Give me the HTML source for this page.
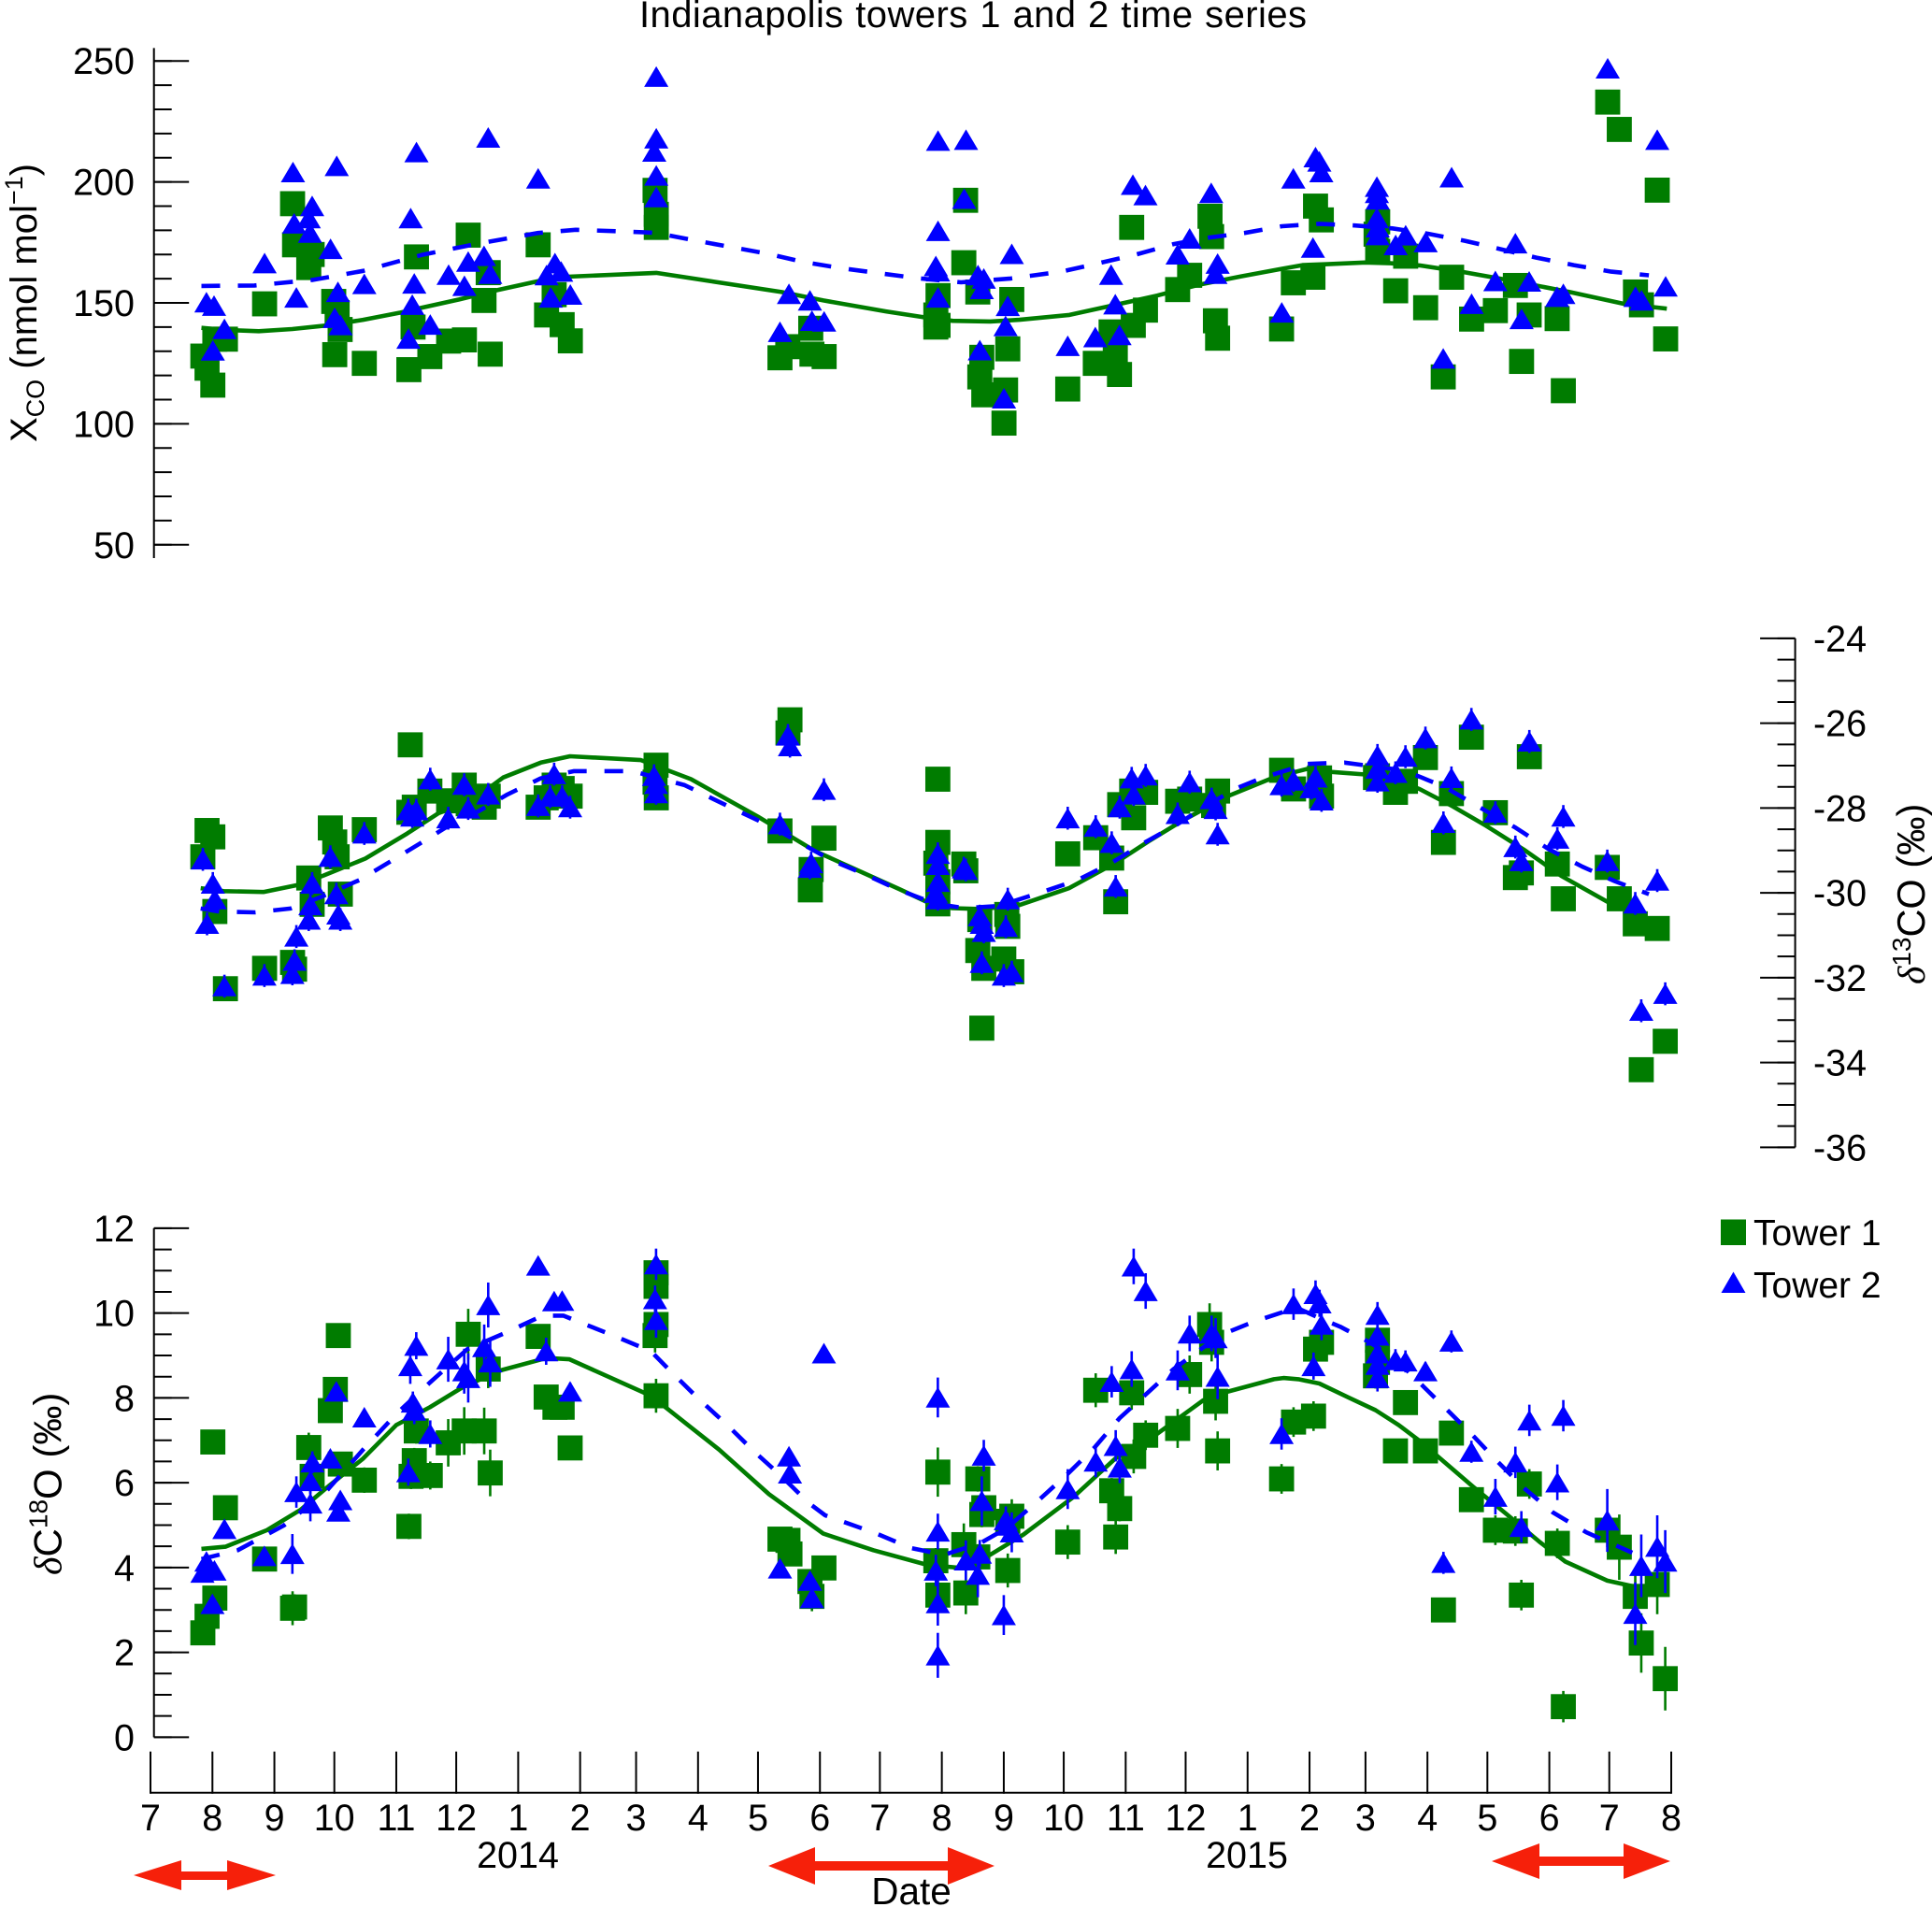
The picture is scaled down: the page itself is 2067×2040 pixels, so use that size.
<!DOCTYPE html>
<html>
<head>
<meta charset="utf-8">
<title>Indianapolis towers 1 and 2 time series</title>
<style>
html,body{margin:0;padding:0;background:#fff;}
svg{display:block;}
text{font-family:"Liberation Sans",sans-serif;fill:#000;}
.greek{font-family:"Liberation Serif",serif;font-style:italic;}
</style>
</head>
<body>
<svg id="chart" xmlns="http://www.w3.org/2000/svg" width="2067" height="2040" viewBox="0 0 2067 2040">
<rect x="0" y="0" width="2067" height="2040" fill="#ffffff"/>
<text x="684" y="29" font-size="40" word-spacing="1" textLength="714" lengthAdjust="spacing">Indianapolis towers 1 and 2 time series</text>

<text transform="translate(39,473) rotate(-90)" font-size="40">X<tspan font-size="27" dy="8">CO</tspan><tspan dy="-8"> (nmol mol</tspan><tspan font-size="27" dy="-15">−1</tspan><tspan dy="15">)</tspan></text>
<text transform="translate(2059,1053) rotate(-90)" font-size="41.5"><tspan class="greek">δ</tspan><tspan font-size="28" dy="-15">13</tspan><tspan dy="15">CO (‰)</tspan></text>
<text transform="translate(65.5,1685) rotate(-90)" font-size="42"><tspan class="greek">δ</tspan>C<tspan font-size="28" dy="-15">18</tspan><tspan dy="15">O (‰)</tspan></text>

<g id="xcoAxis"></g>
<g id="d13Axis"></g>
<g id="d18Axis"></g>
<g id="dateAxis"></g>
<g id="xcoMarks"></g>
<g id="d13Marks"></g>
<g id="d18Marks"></g>

<text x="554" y="1998" font-size="39.5" text-anchor="middle">2014</text>
<text x="1334" y="1998" font-size="39.5" text-anchor="middle">2015</text>
<text x="975" y="2037" font-size="40.5" text-anchor="middle">Date</text>

<polygon fill="#f6200a" points="143,2006 194,1990 194,2002 243,2002 243,1990 295,2006 243,2022 243,2011 194,2011 194,2022"/>
<polygon fill="#f6200a" points="822,1996 872,1976 872,1991 1014,1991 1014,1976 1064,1996 1014,2016 1014,2001 872,2001 872,2016"/>
<polygon fill="#f6200a" points="1596,1991 1647,1972 1647,1986 1737,1986 1737,1972 1787,1991 1737,2010 1737,1996 1647,1996 1647,2010"/>

<g>
<rect x="1841" y="1304.5" width="27" height="27.5" fill="#007c00"/>
<text x="1876" y="1332" font-size="39">Tower 1</text>
<polygon points="1854.5,1360.5 1867.5,1383 1841.5,1383" fill="#0000ff"/>
<text x="1876" y="1388" font-size="39">Tower 2</text>
</g>
</svg>
<script>
const monthDays = [0,31,62,92,123,153,184,215,243,274,304,335,365,396,427,457,488,518,549,580,608,639,669,700,730,761];
const monthLabels = ['7','8','9','10','11','12','1','2','3','4','5','6','7','8','9','10','11','12','1','2','3','4','5','6','7','8'];
const xcoTicks = [250,200,150,100,50];
const d13Ticks = [-24,-26,-28,-30,-32,-34,-36];
const d18Ticks = [12,10,8,6,4,2,0];

const xcoTower1Days = [
26.2,28.3,31.2,32.2,37.5,71.1,72.1,80.9,79.2,57.1,
91.7,93.4,94.9,92.2,107,129.3,133.1,131.4,139.8,149.2,
157.1,159,169,166.9,170,194,202,198.2,206,210.1,
252.5,253.1,253.1,315,318.9,330.4,331,337.1,394.1,393,
394.1,393,407.9,407,414,431,416,415,417,427.9,
427.1,429,459,491,472.8,480.7,482.8,484.9,491.8,497.9,
514,520,530.2,531,532.9,534,566,583,585.9,571.9,
581.7,614.1,613.3,614.1,628.1,623.1,638.1,651.1,646.9,661.1,
673,683,689.9,686.1,703.9,707,729.2,735,743.1,746.1,
754,758.2];
const xcoTower1Values = [
128,123,116,135,135,191,174,170,164.6,149.6,
150.6,146,139,128.6,125,122.4,169,140,127.8,134.2,
134.7,178,162.5,151,128.8,174,153.4,145,141,134.3,
196.5,186.6,181.2,127.3,131.9,139.5,128.8,127.8,153,140,
140.7,145,192.4,166.6,154.5,151.4,127.5,119.4,112,114,
100.3,131,114.4,181.2,125,138,127.8,120.4,140.7,147,
155.5,161.4,185.8,177.4,142.6,135.4,139.2,190,184.3,158.3,
160.6,183.5,178.4,171.3,169.3,155,148,160.6,119.4,143.3,
146.8,157.2,145,125.8,143.5,113.7,233,221.7,154.5,149.2,
196.6,135.1];
const xcoTower2Days = [
28,31.8,37,31.2,57.1,71.3,71.9,79.2,80.9,79.8,
90.1,73,93.2,93.8,92.2,95.1,107,133.1,130.2,132,
131,129.1,140,149.2,157.1,159,166.9,170,169,194,
202.4,198.2,205.5,200.3,210.1,253.1,253.1,252.1,253.1,253.1,
319.5,330,315,331,337.1,394.1,408.1,394.1,393,394.1,
394.1,407.2,414.1,417,416,415,429,431,427.9,427.1,
459,472.8,480.7,482.8,484.9,491.6,497.9,514,520,530.8,
534,532.9,566.1,571.9,583,584.9,585.9,581.7,613.7,613.7,
614.1,613.7,614.1,614.1,623.1,628.1,638.1,651.1,646.9,661.1,
673,683,689.9,686.1,703.9,707,729.2,754,743.1,746.1,
758.2];
const xcoTower2Values = [
150.2,148.8,139.2,130.3,166.4,204,182.8,185,190,179,
172.3,152.2,206.6,154.5,143.8,140.8,157.8,212.3,185,158,
149.2,135.2,141,161.6,157,167,169.4,162,218.3,201.4,
166.4,161.4,162.9,152.2,153.4,243.5,218,212.5,202.6,193.7,
153.7,151,138,142.6,142.3,217,217.4,179.7,165.2,163,
152.2,193,161.4,160,155.7,130.4,148.7,170.2,140.4,110.5,
132.2,135.8,161.6,149.4,136.7,198.8,194.5,170,176.6,195.4,
166.2,162,146,201.4,210.2,208.4,204,172.8,198,195.4,
192.7,185,181.2,178,173.9,177.9,175.1,201.9,127,149.6,
159,174.6,158.8,143.3,152.5,153.7,246.9,217.4,152.5,151,
156.8];
const xcoFit1Days = [25.5,37.5,54.2,70.9,88.6,106.4,125.1,135.6,154.4,173.2,194,208.7,253.1,315.8,336.7,368,388.9,401.4,420.2,434.8,459.8,482.8,503.7,524.6,545.5,566.3,576.5,589,607.8,620.4,635,655.9,678.8,710.2,737.3,758.8];
const xcoFit1Values = [139.7,138.8,138.3,139.2,140.7,143,146,148,151.4,155.2,159,160.8,162.4,154.5,151,146.5,143.8,142.6,142.3,143,145,149.2,153,157.5,160.9,164.1,165.6,166,166.7,166.4,165.5,162.9,159.5,154.5,149.6,147.6];
const xcoFit2Days = [25.5,52,81.3,106.4,135.6,162.7,194,212.8,246.3,253.1,271.9,309.5,326.2,345,382.6,405.6,430.6,455.7,474.5,493.3,512,528.8,547.5,566.3,584.9,602.6,621.4,639.2,658,693.5,712.2,731,749.8];
const xcoFit2Values = [157,157.2,159.5,163.2,169.8,174.3,178.9,180.2,179.2,178.9,175.9,170.2,167,164.4,160.3,158.5,160.1,162.9,166.4,170,174.3,176.9,178.9,181.7,182.7,182,180.8,178.6,175.6,168.7,165.6,162.9,161.4];

const d13Tower1Days = [
26.2,28.3,31.2,32.2,37.5,57.1,71.1,72.1,79.2,80.9,
90,92.2,93.4,95,107,130,129.3,132,139.8,149.2,
157,159,169,166.9,167,194,198,206,210,202,
253,252.5,253.1,315,320,319,337,330.6,330.2,394,
394,393,394,394,407,408,415,414,427,417,
431,416,428.5,429,459,473,481,483,485,492,
498,491,514,520,534,532,566,572,585,586,
614,613,623,628,638,661,647,651,673,683,
686,690,704,707,729,735,743,754,746,758];
const d13Tower1Values = [
-29.15,-28.53,-28.68,-30.44,-32.26,-31.78,-31.64,-31.8,-29.65,-30.27,
-28.47,-28.8,-29.15,-30.03,-28.51,-26.51,-28.1,-27.98,-27.6,-27.83,
-27.46,-27.9,-27.72,-27.9,-27.98,-27.98,-27.76,-27.54,-27.72,-27.46,
-26.99,-27.39,-27.76,-28.54,-25.92,-26.23,-28.71,-29.45,-29.93,-27.32,
-28.81,-29.3,-29.74,-30.26,-29.32,-29.48,-30.63,-31.36,-31.56,-31.78,
-31.86,-33.19,-30.51,-30.79,-29.08,-28.7,-29.18,-30.21,-27.92,-28.23,
-27.63,-27.6,-27.84,-27.79,-27.6,-27.94,-27.11,-27.55,-27.29,-27.72,
-27.24,-27.28,-27.63,-27.37,-26.81,-26.33,-28.81,-27.66,-28.11,-29.64,
-29.53,-26.79,-29.32,-30.14,-29.4,-30.14,-30.73,-30.84,-34.17,-33.5];
const d13Tower2Days = [
26.2,31.2,32.2,28.3,37,57,72.1,71,73,79.2,
80.9,80,90,94,95,93,107,140,157,149,
159,169,129,133,131,202,194,200,206,210,
252,253,253,315,319,320,337,330.6,330,394,
394,394,393,394,407,408,415,416,417,416,
427,431,429,428,459,473,481,483,485,492,
491,498,514,520,531,533,534,566,572,583,
581,586,614,614,614,623,628,638,651,647,
661,673,690,683,686,704,707,729,743,754,
746,758];
const d13Tower2Values = [
-29.21,-29.78,-30.15,-30.73,-32.2,-31.95,-31.6,-31.91,-31.03,-30.63,
-29.78,-30.29,-29.15,-30.51,-30.63,-30.03,-28.6,-27.32,-27.45,-28.24,
-28.01,-27.68,-28.05,-28.05,-28.2,-27.2,-27.95,-27.73,-27.73,-27.98,
-27.24,-27.43,-27.65,-28.38,-26.29,-26.54,-27.57,-29.3,-29.41,-29.08,
-29.34,-29.74,-30,-30.15,-29.42,-29.46,-30.55,-30.73,-30.92,-31.65,
-31.95,-31.87,-30.15,-30.8,-28.24,-28.44,-28.82,-29.85,-27.98,-27.68,
-27.3,-27.23,-28.14,-27.39,-27.79,-28.02,-28.62,-27.46,-27.35,-27.28,
-27.53,-27.82,-26.76,-27.07,-27.37,-27.17,-26.79,-26.35,-27.29,-28.35,
-25.91,-28.11,-26.43,-28.92,-29.25,-28.72,-28.2,-29.25,-30.25,-29.71,
-32.78,-32.38];
const d13Tower2Error = 0.27;
const d13Fit1Days = [25.1,36.6,56.5,74.2,86.7,107.6,128.5,144.2,159.8,176.5,195.3,209.9,245.4,270.5,303.9,332.3,351.1,375.1,388.7,401.2,415.8,434.6,459.7,482.6,499.3,516,539,562,578.7,591.2,607.9,622.5,635,651.7,668.4,687.2,706,729,735];
const d13Fit1Values = [-29.89,-29.96,-29.98,-29.81,-29.59,-29.19,-28.6,-28.12,-27.86,-27.28,-26.93,-26.78,-26.87,-27.32,-28.2,-29.01,-29.41,-29.92,-30.22,-30.36,-30.38,-30.29,-29.89,-29.3,-28.79,-28.31,-27.72,-27.28,-27.08,-27.15,-27.21,-27.33,-27.55,-27.96,-28.42,-28.98,-29.6,-30.21,-30.35];
const d13Fit2Days = [25.1,34.5,52.3,70,84.6,104.5,120.1,136.8,149.4,164,178.6,195.3,212,241.2,267.3,291.4,308,324,340.7,357.4,374,392.9,407.5,424.2,445,463.8,480.6,497.3,514,528.6,543.2,555.7,578.7,597.5,626.6,635,647.5,662,683,699.7,716.4,733,749.8];
const d13Fit2Values = [-30.37,-30.44,-30.46,-30.37,-30.11,-29.7,-29.26,-28.78,-28.41,-28.08,-27.68,-27.3,-27.13,-27.13,-27.46,-28.01,-28.38,-28.79,-29.23,-29.56,-29.92,-30.26,-30.36,-30.31,-30,-29.7,-29.3,-28.82,-28.38,-27.94,-27.54,-27.3,-26.96,-26.93,-27.11,-27.26,-27.5,-27.9,-28.46,-28.97,-29.38,-29.73,-30.03];

const d18Tower1Days = [
26.2,28.3,32.2,31.2,37.5,57.1,71.1,72.1,79.2,80.9,
90,92.5,94,95,107,129.3,133,132,130.4,140,
149,157,159,167,169,170,194,198,202.4,206,
210,252.5,253,253,253,253,315,319,320,330,
331,337,394,393,394,407,408,414,417,416,
414,431,429,429,459,473,481,485,483,491,
492,498,514,520,530,531,533,534,566,572,
582,583,586,614,613,614,623,628,638,647,
651,661,673,683,686,690,704,707,729,735,
743,746,754,758];
const d18Tower1Values = [
2.46,2.85,3.28,6.96,5.41,4.2,3.04,3.07,6.83,6.15,
7.7,8.2,9.47,6.44,6.06,4.97,7.22,6.52,6.15,6.17,
6.94,7.22,9.5,7.22,8.68,6.23,9.45,8.02,7.78,7.78,
6.82,9.47,9.73,10.95,10.63,8.05,4.67,4.64,4.32,3.67,
3.32,3.99,6.25,4.16,3.35,4.54,3.4,6.09,5.41,5.25,
4.25,5.21,5.09,3.93,4.6,8.18,5.81,5.39,4.72,8.12,
6.62,7.12,7.28,8.55,9.73,9.31,7.92,6.75,6.09,7.43,
7.57,9.15,9.31,9.36,8.52,8.84,6.75,7.89,6.75,3,
7.17,5.6,4.88,4.86,3.35,5.97,4.57,0.72,4.88,4.48,
3.32,2.22,3.6,1.38];
const d18Tower1Errors = [
0,0,0,0,0,0,0.4,0.3,0.35,0.3,
0,0,0,0,0.3,0.3,0.3,0.3,0.3,0.33,
0.56,0.56,0.6,0.55,0.45,0.55,0,0,0,0,
0,0.4,0.3,0.3,0.3,0.4,0,0,0,0,
0.35,0,0.58,0.3,0.4,0.5,0.5,0.3,0.3,0.3,
0.3,0.4,0.3,0.4,0.4,0.4,0.3,0.3,0.4,0.4,
0.4,0.35,0.46,0.45,0.5,0.45,0.45,0.46,0.35,0.35,
0.35,0.3,0.3,0.3,0.3,0.3,0,0,0,0,
0,0,0.35,0.35,0.36,0.35,0.35,0.37,0.4,0.77,
0.5,0.7,0.7,0.75];
const d18Tower2Days = [
28,26,32,31,37,57,73,71,80,80,
81,90,93,95,94,107,130,133,131.3,132,
129,140,149,157,159,167,169,170,194,198,
202,206,210,253,252.5,253,337,315,319.5,320,
330,331,394,394,393,394,394,408,415,417,
416,414,428,429,431,427,459,473,481,483,
485,491,492,498,514,520,531,533,534,566,
572,583,585,586,582,614,614,614,614,614,
623,628,638,651,647,661,673,683,686,690,
704,707,729,743,746,754,758];
const d18Tower2Values = [
4.14,3.88,3.93,3.14,4.91,4.27,5.78,4.32,5.51,6.04,
6.48,6.57,8.15,5.59,5.32,7.54,8.75,9.23,7.89,7.7,
6.25,7.15,8.91,8.63,8.47,9.2,10.19,8.84,11.12,9.1,
10.28,10.29,8.15,11.15,10.33,9.84,9.05,3.98,6.62,6.22,
3.69,3.28,8.01,4.85,3.93,3.16,1.93,4.17,4.33,6.64,
5.57,3.83,5.12,4.99,4.83,2.88,5.85,6.5,8.38,6.87,
6.36,8.68,11.1,10.52,8.65,9.52,9.52,9.41,8.5,7.15,
10.21,10.45,10.23,9.73,8.75,9.96,9.47,9.05,8.78,8.47,
8.89,8.86,8.63,9.33,4.11,6.73,5.67,6.48,4.96,7.47,
6.01,7.58,5.11,2.91,4.04,4.49,4.14];
const d18Tower2Errors = [
0,0,0,0,0,0,0.37,0.47,0.42,0.3,
0.26,0,0,0,0,0,0.42,0.32,0.26,0.32,
0.32,0.32,0.53,0.53,0.58,0.53,0.53,0.58,0.16,0.32,
0,0,0.21,0.37,0.32,0.42,0.16,0.16,0.16,0.21,
0.16,0.16,0.47,0.42,0.37,0.53,0.53,0.47,0.32,0.37,
0.58,0.53,0.32,0.3,0.47,0.47,0.47,0.37,0.37,0.37,
0.37,0.42,0.42,0.42,0.47,0.42,0.42,0.47,0.53,0.37,
0.37,0.32,0.32,0.37,0.32,0.3,0.3,0.32,0.3,0.32,
0.26,0.26,0.21,0.26,0.26,0.26,0.42,0.37,0.37,0.37,
0.42,0.37,0.74,0.74,0.74,0.74,0.74];
const d18Fit1Days = [25.5,37.5,58.3,75,89.7,106.4,123,139.8,156.5,175.3,198.2,209.7,250.4,284.5,309.5,336.7,361.7,388.9,403.5,420.2,436.9,462,482.8,503.7,526.7,539.2,562.2,567,574.4,584.9,599.5,613,624.6,635,645.4,662,678.8,695.5,708,729,741.5];
const d18Fit1Values = [4.44,4.49,4.88,5.36,5.94,6.57,7.36,7.78,8.26,8.65,8.94,8.91,8.05,6.78,5.73,4.8,4.41,4.06,4,4.3,4.78,5.67,6.57,7.15,7.94,8.15,8.44,8.47,8.44,8.34,8.01,7.71,7.36,6.99,6.57,5.9,5.25,4.59,4.14,3.69,3.56];
const d18Fit2Days = [25.5,43.7,66.7,87.6,106.4,123,139.8,158.6,179.4,196.1,206.6,231.6,250.4,261.5,274,288.6,302.2,315.8,329.4,337.7,362.8,380.5,397.2,415,428.5,445.2,458.8,472.4,484.9,498.5,512,535,551.7,568.4,572.4,587,595.3,610,622.5,635,647.5,661,673.6,687.2,701.8,718.5,741.5];
const d18Fit2Values = [4.2,4.41,4.99,5.78,6.78,7.62,8.36,9.15,9.57,9.94,9.94,9.47,9.1,8.57,7.99,7.36,6.73,6.15,5.52,5.23,4.81,4.46,4.3,4.57,4.93,5.62,6.2,6.83,7.52,8.1,8.68,9.47,9.79,10.05,10.15,9.84,9.68,9.31,8.94,8.36,7.78,7.15,6.52,5.88,5.3,4.83,4.35];

const SVGNS = 'http://www.w3.org/2000/svg';
const GREEN = '#007c00';
const BLUE = '#0000ff';

function xScale(d){ return 161 + d * 2.138; }
function yXco(v){ return 65.2 + (250 - v) * 2.588; }
function yD13(v){ return 682.9 + (-24 - v) * 45.37; }
function yD18(v){ return 1313.9 + (12 - v) * 45.37; }

function svgEl(tag, attrs){
  const el = document.createElementNS(SVGNS, tag);
  for (const k in attrs) el.setAttribute(k, attrs[k]);
  return el;
}

function drawPoints(group, prefix, kind, days, values, errors, yFn){
  const errLayer = svgEl('g', {});
  const markLayer = svgEl('g', {});
  group.appendChild(errLayer);
  group.appendChild(markLayer);
  days.forEach(function(d, i){
    const cx = xScale(d);
    const cy = yFn(values[i]);
    const err = errors ? errors[i] : 0;
    if (err > 0) {
      const bar = svgEl('line', {x1: cx, x2: cx, y1: yFn(values[i] + err), y2: yFn(values[i] - err), stroke: kind === 'square' ? GREEN : BLUE, 'stroke-width': 2.6});
      
      
      errLayer.appendChild(bar);
    }
    let mark;
    if (kind === 'square') {
      mark = svgEl('rect', {x: cx - 13.4, y: cy - 13.4, width: 26.8, height: 26.8, fill: GREEN});
    } else {
      mark = svgEl('polygon', {points: cx + ',' + (cy - 11.2) + ' ' + (cx + 13) + ',' + (cy + 10.8) + ' ' + (cx - 13) + ',' + (cy + 10.8), fill: BLUE});
    }
    
    
    markLayer.appendChild(mark);
  });
}

function drawLine(group, prefix, days, values, yFn, color, dashed){
  const pts = days.map(function(d, i){ return xScale(d).toFixed(1) + ',' + yFn(values[i]).toFixed(1); }).join(' ');
  const line = svgEl('polyline', {points: pts, fill: 'none', stroke: color, 'stroke-width': 4.6, 'stroke-linejoin': 'round'});
  if (dashed) line.setAttribute('stroke-dasharray', '20 19');
  
  
  group.appendChild(line);
}

function drawYAxis(group, prefix, axisX, dir, top, bottom, yFn, ticks, minorStep, labelX, anchor){
  const axisLine = svgEl('line', {x1: axisX, x2: axisX, y1: top, y2: bottom, stroke: '#000', 'stroke-width': 2});
  
  
  group.appendChild(axisLine);
  const hi = Math.max.apply(null, ticks);
  const lo = Math.min.apply(null, ticks);
  const count = Math.round((hi - lo) / minorStep);
  for (let i = 0; i <= count; i++) {
    const v = lo + i * minorStep;
    const minor = svgEl('line', {x1: axisX, x2: axisX + dir * 19, y1: yFn(v), y2: yFn(v), stroke: '#000', 'stroke-width': 2});
    
    
    group.appendChild(minor);
  }
  ticks.forEach(function(v){
    const major = svgEl('line', {x1: axisX, x2: axisX + dir * 37.5, y1: yFn(v), y2: yFn(v), stroke: '#000', 'stroke-width': 2});
    
    
    group.appendChild(major);
    const label = svgEl('text', {x: labelX, y: yFn(v) + 14, 'font-size': 39.5, 'text-anchor': anchor});
    label.textContent = String(v);
    
    
    group.appendChild(label);
  });
}

function drawDateAxis(group){
  const base = svgEl('line', {x1: xScale(monthDays[0]), x2: xScale(monthDays[monthDays.length - 1]), y1: 1917.8, y2: 1917.8, stroke: '#000', 'stroke-width': 2});
  
  
  group.appendChild(base);
  monthDays.forEach(function(d, i){
    const tick = svgEl('line', {x1: xScale(d), x2: xScale(d), y1: 1873.7, y2: 1918.8, stroke: '#000', 'stroke-width': 2});
    
    
    group.appendChild(tick);
    const label = svgEl('text', {x: xScale(d), y: 1958, 'font-size': 39.5, 'text-anchor': 'middle'});
    label.textContent = monthLabels[i];
    
    
    group.appendChild(label);
  });
}

drawYAxis(document.getElementById('xcoAxis'), 'xco', 164.7, 1, 51.4, 597, yXco, xcoTicks, 10, 144, 'end');
drawYAxis(document.getElementById('d13Axis'), 'd13co', 1920.6, -1, yD13(-24), yD13(-36), yD13, d13Ticks, 0.5, 1940, 'start');
drawYAxis(document.getElementById('d18Axis'), 'd18o', 164.7, 1, yD18(12), yD18(0), yD18, d18Ticks, 0.5, 144, 'end');
drawDateAxis(document.getElementById('dateAxis'));

const xcoGroup = document.getElementById('xcoMarks');
drawPoints(xcoGroup, 'xco-tower-1', 'square', xcoTower1Days, xcoTower1Values, null, yXco);
drawLine(xcoGroup, 'xco-tower-1', xcoFit1Days, xcoFit1Values, yXco, GREEN, false);
drawLine(xcoGroup, 'xco-tower-2', xcoFit2Days, xcoFit2Values, yXco, BLUE, true);
drawPoints(xcoGroup, 'xco-tower-2', 'triangle', xcoTower2Days, xcoTower2Values, null, yXco);

const d13Group = document.getElementById('d13Marks');
drawPoints(d13Group, 'd13co-tower-1', 'square', d13Tower1Days, d13Tower1Values, null, yD13);
drawLine(d13Group, 'd13co-tower-1', d13Fit1Days, d13Fit1Values, yD13, GREEN, false);
drawLine(d13Group, 'd13co-tower-2', d13Fit2Days, d13Fit2Values, yD13, BLUE, true);
drawPoints(d13Group, 'd13co-tower-2', 'triangle', d13Tower2Days, d13Tower2Values, d13Tower2Days.map(function(){ return d13Tower2Error; }), yD13);

const d18Group = document.getElementById('d18Marks');
drawPoints(d18Group, 'd18o-tower-1', 'square', d18Tower1Days, d18Tower1Values, d18Tower1Errors, yD18);
drawLine(d18Group, 'd18o-tower-1', d18Fit1Days, d18Fit1Values, yD18, GREEN, false);
drawLine(d18Group, 'd18o-tower-2', d18Fit2Days, d18Fit2Values, yD18, BLUE, true);
drawPoints(d18Group, 'd18o-tower-2', 'triangle', d18Tower2Days, d18Tower2Values, d18Tower2Errors, yD18);
</script>
</body>
</html>
